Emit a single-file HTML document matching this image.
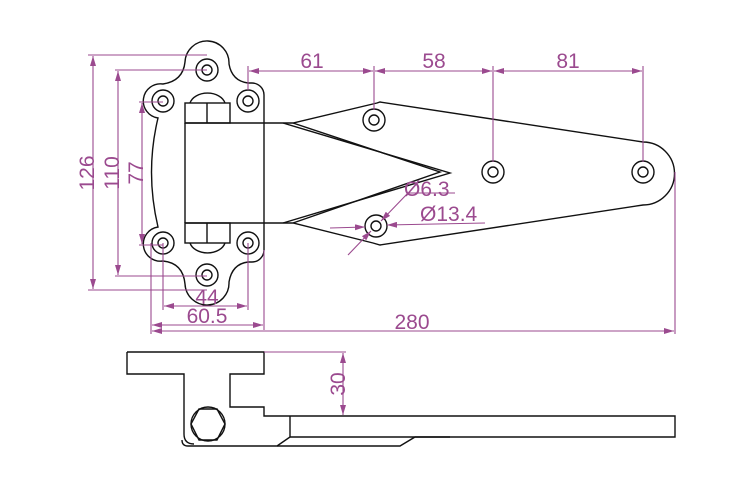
<!DOCTYPE html>
<html><head><meta charset="utf-8"><style>
html,body{margin:0;padding:0;background:#fff;}
svg{display:block;}
text{font-family:"Liberation Sans",sans-serif;fill:#9b4a8f;font-size:21px;}
</style></head><body>
<svg width="750" height="500" viewBox="0 0 750 500" xmlns="http://www.w3.org/2000/svg">
<defs>
<marker id="a" viewBox="0 0 10 6" refX="10" refY="3" markerWidth="10" markerHeight="6" orient="auto-start-reverse" markerUnits="userSpaceOnUse"><path d="M0,0L10,3L0,6z" fill="#9b4a8f"/></marker>
</defs>
<g fill="none" stroke="#111" stroke-width="1.4">
<!-- flange outline -->
<path d="M185,62 A22,22 0 0 1 229,64 Q232,81 248,83 L252,83 A12,12 0 0 1 264,95 L264,250 A12,12 0 0 1 252,262 L248,262 Q232,264 229,282 A22,22 0 0 1 185,284 Q183,263 163,261 A17,17 0 0 1 158,227 Q145,172 158,118 A17,17 0 0 1 163,84 Q183,81 185,62 Z"/>
<circle cx="207" cy="70" r="11"/><circle cx="207" cy="70" r="5"/>
<circle cx="163" cy="101" r="11"/><circle cx="163" cy="101" r="5"/>
<circle cx="248" cy="101" r="11"/><circle cx="248" cy="101" r="5"/>
<circle cx="163" cy="243" r="11"/><circle cx="163" cy="243" r="5"/>
<circle cx="248" cy="243" r="11"/><circle cx="248" cy="243" r="5"/>
<circle cx="207" cy="275" r="11"/><circle cx="207" cy="275" r="5"/>
<!-- knuckles -->
<path d="M190,103 A18,13 0 0 1 225,103"/>
<rect x="185" y="103" width="45" height="20" fill="#fff"/>
<line x1="207" y1="103" x2="207" y2="123"/>
<path d="M190,243 A18,13 0 0 0 225,243"/>
<rect x="185" y="223" width="45" height="20" fill="#fff"/>
<line x1="207" y1="223" x2="207" y2="243"/>
<!-- body -->
<path d="M185,123 L283,123 M185,223 L283,223 M185,123 L185,223"/>
<!-- strap -->
<path d="M283,123 L293,123 L377,103 L380,102 L643,142 A30,30 0 0 1 643,205 L380,245 L373,243 L293,223 L283,223"/>
<path d="M283,123 L450,173 L283,223"/>
<path d="M293,123 L440,172 L293,223"/>
<circle cx="374" cy="120" r="11"/><circle cx="374" cy="120" r="5"/>
<circle cx="493" cy="172" r="11"/><circle cx="493" cy="172" r="5"/>
<circle cx="643" cy="172" r="11"/><circle cx="643" cy="172" r="5"/>
<circle cx="376" cy="226" r="11"/><circle cx="376" cy="226" r="5"/>
<!-- side view -->
<path d="M127,352 L264,352 L264,374 L230,374 L230,407 L264,407 L264,416 L675,416 L675,437 L298,437"/>
<path d="M127,352 L127,374 L184,374 L184,434 Q184,444 194,444"/>
<path d="M290,416 L290,437 L277,446 L188,446 Q182,446 182,440"/>
<path d="M277,446 L290,446 M290,437 L298,437 M277,446 L400,446 L415,437 L450,437"/>
<circle cx="208" cy="424" r="17"/>
<path d="M199,409 L217,409 L225,424 L217,440 L199,440 L191,424 Z"/>
</g>
<g fill="none" stroke="#9b4a8f" stroke-width="1.1">
<!-- vertical dims left -->
<line x1="88" y1="55" x2="207" y2="55"/><line x1="88" y1="290" x2="207" y2="290"/>
<line x1="93" y1="56" x2="93" y2="289" marker-start="url(#a)" marker-end="url(#a)"/>
<line x1="115" y1="70" x2="207" y2="70"/><line x1="115" y1="276" x2="207" y2="276"/>
<line x1="118" y1="71" x2="118" y2="275" marker-start="url(#a)" marker-end="url(#a)"/>
<line x1="139" y1="102" x2="163" y2="102"/><line x1="139" y1="245" x2="163" y2="245"/>
<line x1="142" y1="103" x2="142" y2="244" marker-start="url(#a)" marker-end="url(#a)"/>
<!-- bottom horizontal dims -->
<line x1="163" y1="243" x2="163" y2="310"/><line x1="248" y1="243" x2="248" y2="310"/>
<line x1="164" y1="306" x2="247" y2="306" marker-start="url(#a)" marker-end="url(#a)"/>
<line x1="151" y1="243" x2="151" y2="334"/><line x1="264" y1="250" x2="264" y2="330"/>
<line x1="152" y1="325" x2="263" y2="325" marker-start="url(#a)" marker-end="url(#a)"/>
<line x1="675" y1="172" x2="675" y2="334"/>
<line x1="152" y1="331" x2="674" y2="331" marker-start="url(#a)" marker-end="url(#a)"/>
<!-- top dims -->
<line x1="248" y1="66" x2="248" y2="90"/>
<line x1="374" y1="66" x2="374" y2="110"/>
<line x1="493" y1="66" x2="493" y2="162"/>
<line x1="643" y1="66" x2="643" y2="162"/>
<line x1="249" y1="71" x2="373" y2="71" marker-start="url(#a)" marker-end="url(#a)"/>
<line x1="375" y1="71" x2="492" y2="71" marker-start="url(#a)" marker-end="url(#a)"/>
<line x1="494" y1="71" x2="642" y2="71" marker-start="url(#a)" marker-end="url(#a)"/>
<!-- diameters -->
<line x1="348" y1="255" x2="371" y2="231" marker-end="url(#a)"/>
<line x1="381" y1="221" x2="408" y2="193" marker-start="url(#a)"/>
<line x1="408" y1="193" x2="455" y2="193"/>
<line x1="330" y1="228" x2="365" y2="227" marker-end="url(#a)"/>
<line x1="387" y1="225" x2="485" y2="223" marker-start="url(#a)"/>
<!-- 30 -->
<line x1="264" y1="352" x2="346" y2="352"/>
<line x1="343" y1="353" x2="343" y2="415" marker-start="url(#a)" marker-end="url(#a)"/>
</g>
<text x="312" y="68" text-anchor="middle">61</text>
<text x="434" y="68" text-anchor="middle">58</text>
<text x="568" y="68" text-anchor="middle">81</text>
<text x="207" y="304" text-anchor="middle">44</text>
<text x="207" y="323" text-anchor="middle">60.5</text>
<text x="412" y="329" text-anchor="middle">280</text>
<text x="404" y="196">Ø6.3</text>
<text x="420" y="221">Ø13.4</text>
<text transform="translate(94,173) rotate(-90)" text-anchor="middle">126</text>
<text transform="translate(119,173) rotate(-90)" text-anchor="middle">110</text>
<text transform="translate(143,173) rotate(-90)" text-anchor="middle">77</text>
<text transform="translate(345,384) rotate(-90)" text-anchor="middle">30</text>
</svg>
</body></html>
